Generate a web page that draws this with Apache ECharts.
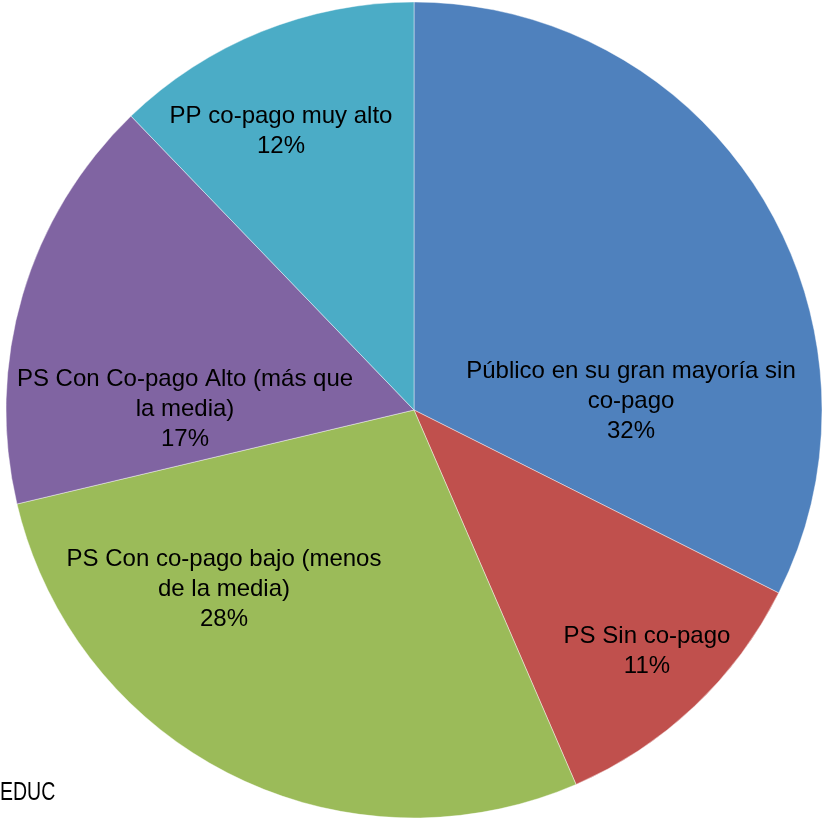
<!DOCTYPE html>
<html><head><meta charset="utf-8">
<script src="https://cdn.jsdelivr.net/npm/echarts@6/dist/echarts.min.js"></script>
<style>html,body{margin:0;padding:0;background:#fff}#c{width:826px;height:820px}</style>
</head><body><div id="c"></div>
<script>
const categories = [
  'Público en su gran mayoría sin\nco-pago',
  'PS Sin co-pago',
  'PS Con co-pago bajo (menos\nde la media)',
  'PS Con Co-pago Alto (más que\nla media)',
  'PP co-pago muy alto'
];
const values = [32.4, 11.1, 27.8, 16.5, 12.2];
const colors = ['#4F81BD', '#C0504D', '#9BBB59', '#8064A2', '#4BACC6'];
const labelCenters = [[631, 401], [647, 651], [224, 589], [185, 409], [281, 131]];

const chart = echarts.init(document.getElementById('c'));
chart.setOption({
  animation: false,
  graphic: [{type: 'text', x: 0, y: 780, scaleX: 0.75, style: {text: 'EDUC', font: '26px "Liberation Sans", sans-serif', fill: '#000'}}],
  series: [{
    type: 'pie',
    center: [414, 410],
    radius: [0, 408],
    startAngle: 90,
    clockwise: true,
    avoidLabelOverlap: false,
    data: categories.map((n, i) => ({name: n, value: values[i], itemStyle: {color: colors[i]}})),
    itemStyle: {borderColor: 'rgba(255,255,255,0.6)', borderWidth: 0.7},
    label: {
      position: 'inside',
      formatter: p => p.name + '\n' + Math.round(p.percent) + '%',
      color: '#000',
      fontFamily: '"Liberation Sans", sans-serif',
      fontSize: 24,
      lineHeight: 30,
      align: 'center'
    },
    labelLine: {show: false},
    labelLayout: p => ({x: labelCenters[p.dataIndex][0], y: labelCenters[p.dataIndex][1], align: 'center', verticalAlign: 'middle'})
  }]
});
</script></body></html>
